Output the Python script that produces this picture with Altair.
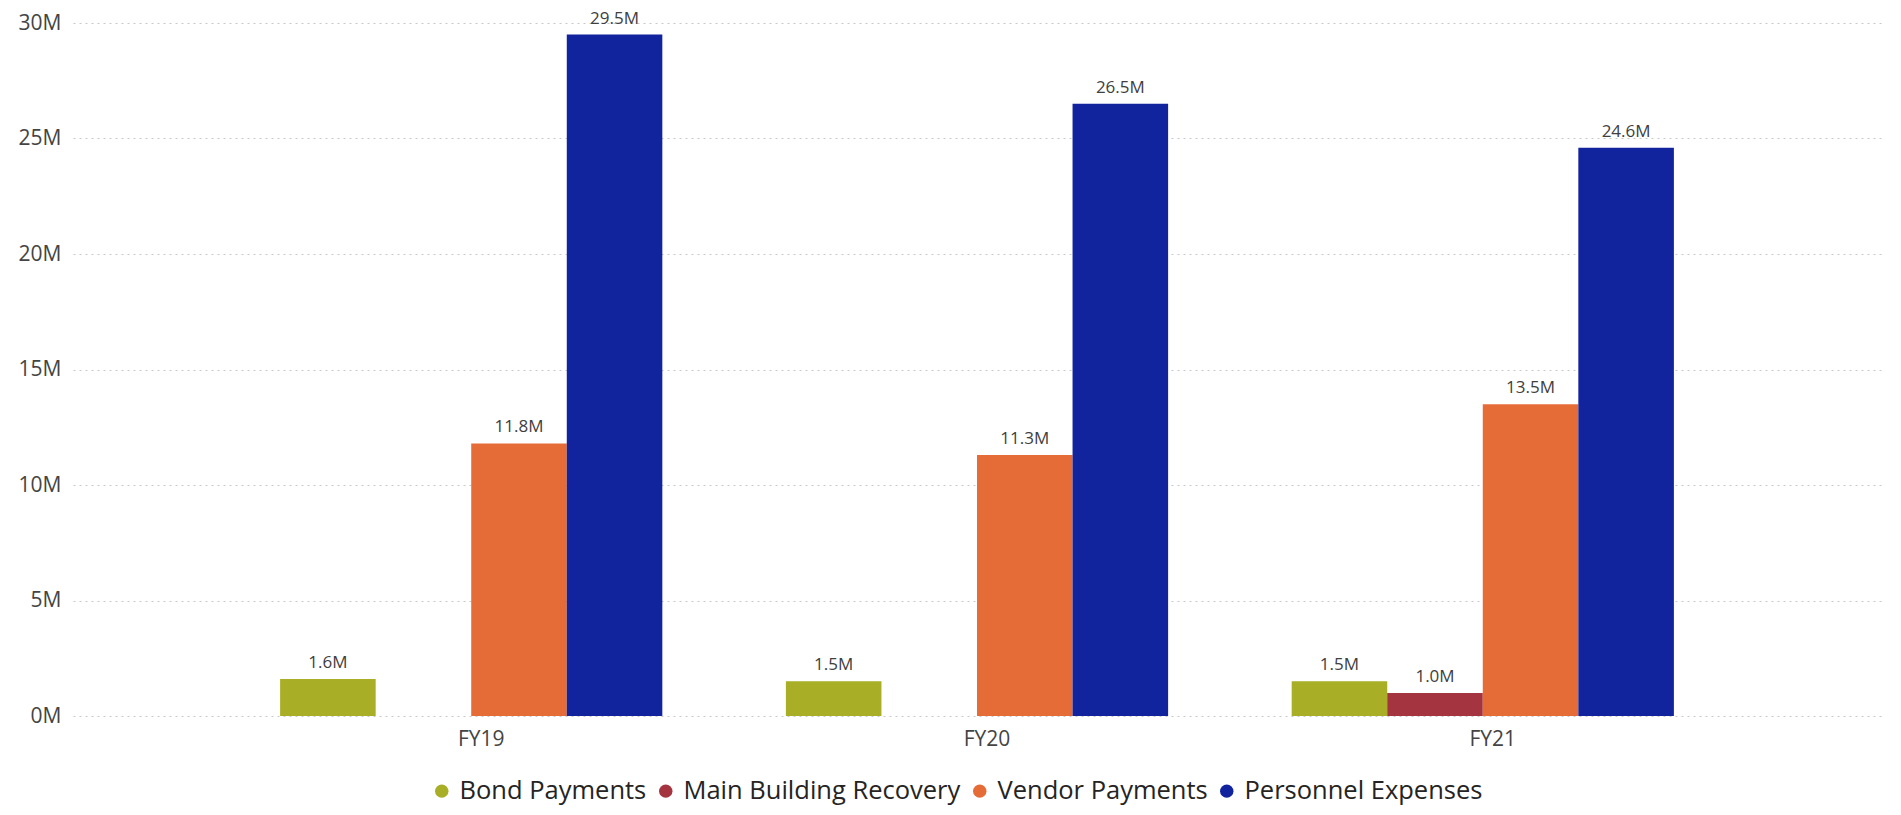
import altair as alt
import pandas as pd

years = ["FY19", "FY20", "FY21"]
series = ["Bond Payments", "Main Building Recovery", "Vendor Payments", "Personnel Expenses"]
colors = ["#A8AE25", "#A4343F", "#E66C37", "#12239E"]
bond = [1.6, 1.5, 1.5]
main_building = [None, None, 1.0]
vendor = [11.8, 11.3, 13.5]
personnel = [29.5, 26.5, 24.6]
y_ticks = [0, 5, 10, 15, 20, 25, 30]

rows = []
for name, vals in zip(series, [bond, main_building, vendor, personnel]):
    for yr, v in zip(years, vals):
        if v is not None:
            rows.append({"year": yr, "series": name, "value": v})
df = pd.DataFrame(rows)

FONT = "Open Sans"

x = alt.X("year:N", sort=years, title=None,
          scale=alt.Scale(paddingInner=0.2443, paddingOuter=0.4095),
          axis=alt.Axis(labelAngle=0, domain=False, ticks=False, labelPadding=12,
                        labelFontSize=21, labelColor="#444444", labelFont=FONT,
                        labelOffset=10, grid=False))
xo = alt.XOffset("series:N", sort=series,
                 scale=alt.Scale(domain=series, paddingInner=0, paddingOuter=0))
y = alt.Y("value:Q", title=None,
          scale=alt.Scale(domain=[0, 30], nice=False),
          axis=alt.Axis(values=y_ticks, domain=False, ticks=False, labelPadding=12,
                        labelFontSize=21, labelColor="#444444", labelFont=FONT,
                        labelExpr="datum.value + 'M'", grid=True,
                        gridColor="#c8c8c8", gridDash=[2, 4], gridWidth=1))

bars = alt.Chart(df).mark_bar().encode(
    x=x, xOffset=xo, y=y,
    color=alt.Color("series:N", sort=series,
                    scale=alt.Scale(domain=series, range=colors),
                    legend=alt.Legend(title=None, orient="none", direction="horizontal",
                                      legendX=356, legendY=755, padding=0,
                                      symbolType="circle", symbolSize=180,
                                      symbolStrokeWidth=0, labelOffset=5,
                                      columnPadding=6, labelFontSize=25.5,
                                      labelFont=FONT, labelColor="#252423",
                                      labelLimit=0))
)

labels = alt.Chart(df).transform_calculate(
    lab="format(datum.value, '.1f') + 'M'"
).mark_text(dy=-11, baseline="alphabetic", align="center", fontSize=17,
            font=FONT, color="#404040").encode(
    x=x, xOffset=xo, y=y, text="lab:N"
)

chart = alt.layer(bars, labels).properties(
    width=1808, height=693,
    autosize=alt.AutoSizeParams(type="none"),
    padding={"left": 65, "top": 15, "right": 10, "bottom": 90},
).configure(font=FONT, view=alt.ViewConfig(stroke="transparent", strokeWidth=0))

chart.save("out.html", embed_options={"renderer": "svg", "actions": False})
